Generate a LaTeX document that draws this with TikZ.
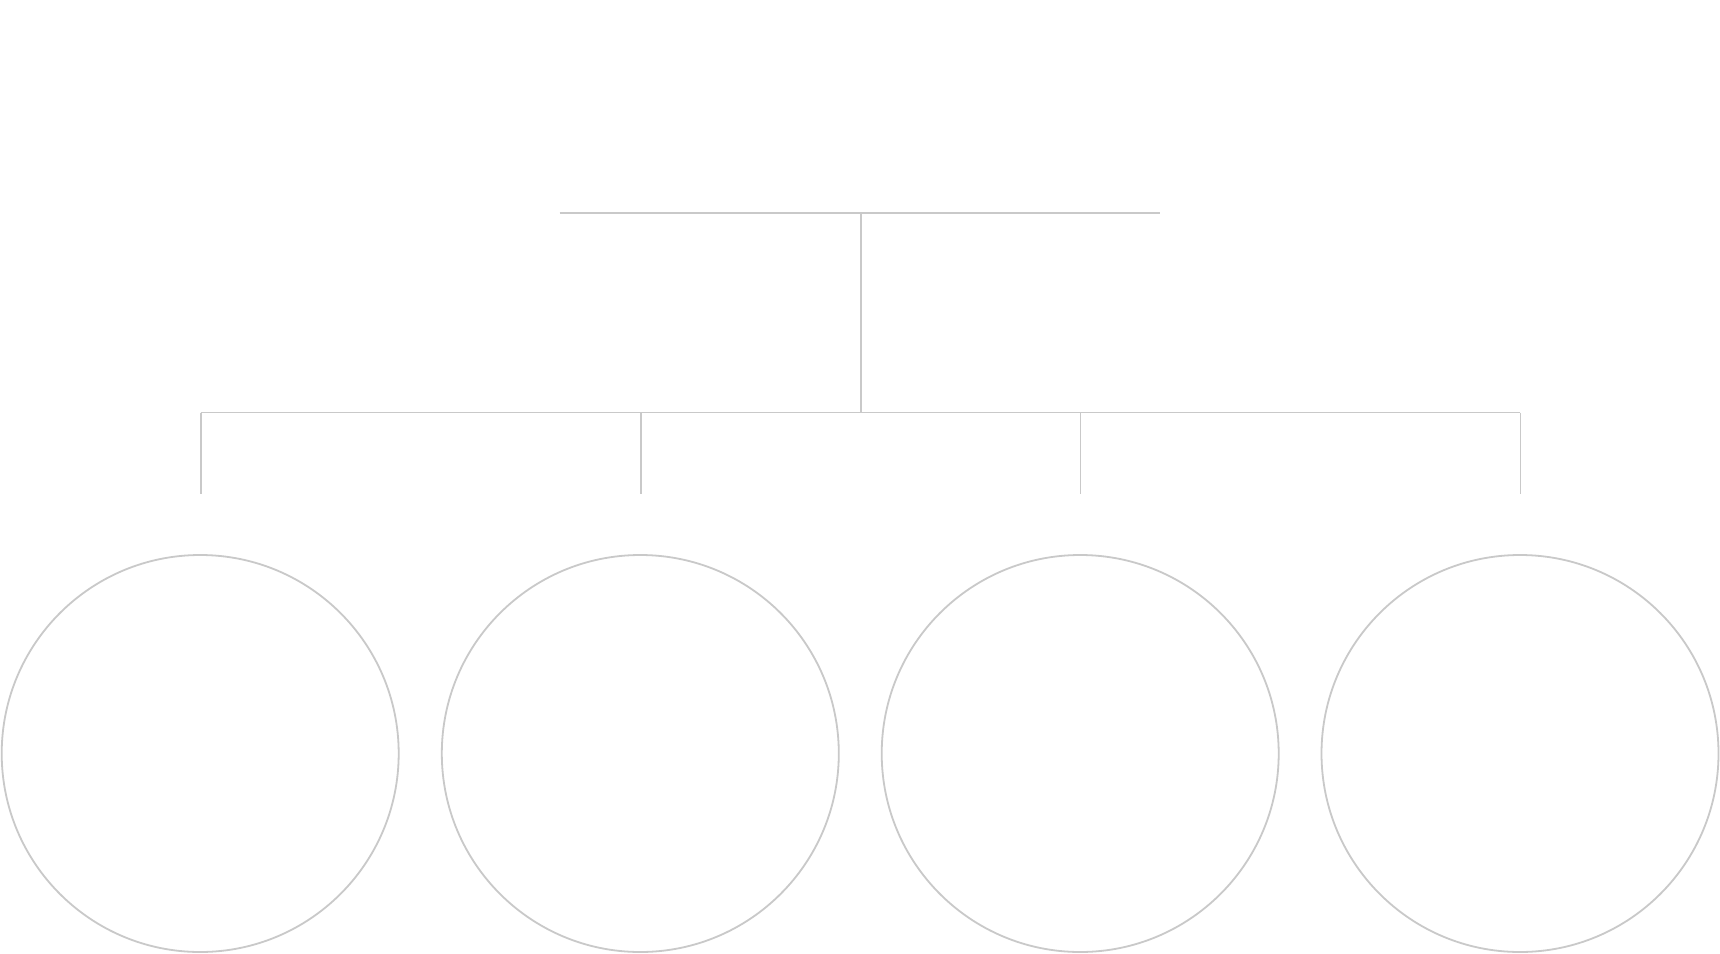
\documentclass[tikz,border=0pt]{standalone}
\begin{document}
\begin{tikzpicture}[x=1pt,y=-1pt,
  conn/.style={draw=black!21, line width=1.8pt},
  ring/.style={circle, draw=black!21, line width=1.8pt, minimum size=397pt, inner sep=0pt}]
\useasboundingbox[fill=white] (0,0) rectangle (1720,953);
\coordinate (tl) at (559.5,212.8);
\coordinate (tr) at (1159.5,212.8);
\coordinate (tm) at (860.7,212.8);
\coordinate (hm) at (860.7,412.5);
\coordinate (h1) at (200.7,412.5);
\coordinate (h2) at (640.8,412.5);
\coordinate (h3) at (1080.5,412.5);
\coordinate (h4) at (1520.4,412.5);
\coordinate (d1) at (200.7,493.5);
\coordinate (d2) at (640.8,493.5);
\coordinate (d3) at (1080.5,493.5);
\coordinate (d4) at (1520.4,493.5);
\node[ring] (c1) at (200.2,753.5) {};
\node[ring] (c2) at (640.3,753.5) {};
\node[ring] (c3) at (1080.2,753.5) {};
\node[ring] (c4) at (1520,753.5) {};
\draw[conn] (tl) -- (tr);
\draw[conn] (tm) -- (hm);
\draw[conn] (h1) -- (h4);
\draw[conn] (h1) -- (d1);
\draw[conn] (h2) -- (d2);
\draw[conn] (h3) -- (d3);
\draw[conn] (h4) -- (d4);
\end{tikzpicture}
\end{document}
